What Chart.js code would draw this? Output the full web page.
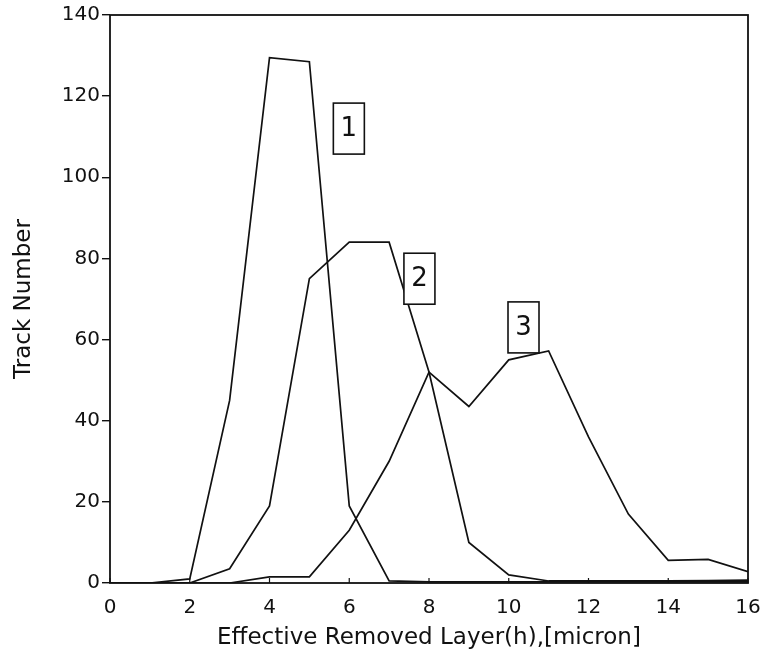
<!DOCTYPE html>
<html>
<head>
<meta charset="utf-8">
<script src="https://cdn.jsdelivr.net/npm/chart.js@4.4.1/dist/chart.umd.min.js"></script>
<style>
html,body{margin:0;padding:0;background:#ffffff;}
#wrap{width:769px;height:656px;position:relative;}
</style>
</head>
<body>
<div id="wrap"><canvas id="c" width="769" height="656"></canvas></div>
<script>
// ---- data ----
const xValues = [0,1,2,3,4,5,6,7,8,9,10,11,12,13,14,15,16];
const series1 = [0,0,1,45,129.5,128.5,19,0.5,0.3,0.3,0.3,0.3,0.3,0.3,0.3,0.3,0.3];
const series2 = [0,0,0,3.5,19,75,84,84,52,10,2,0.5,0.5,0.5,0.5,0.6,0.7];
const series3 = [0,0,0,0,1.5,1.5,13,30,52,43.5,55,57.2,36,17,5.6,5.8,2.8];
const xTicks = [0,2,4,6,8,10,12,14,16];
const yTicks = [0,20,40,60,80,100,120,140];
const curveNames = ['1','2','3'];
const nameX = [5.99, 7.76, 10.37];
const nameY = [112, 75, 63];
const xTitle = 'Effective Removed Layer(h),[micron]';
const yTitle = 'Track Number';

const ink = '#111111';
const FONT = "'DejaVu Sans', Arial, sans-serif";

function toPoints(ys){ return xValues.map((x,i)=>({x:x,y:ys[i]})); }

const frameAndLabels = {
  id:'frameAndLabels',
  afterDraw(chart){
    const ctx = chart.ctx, a = chart.chartArea;
    const xs = chart.scales.x, ys = chart.scales.y;
    ctx.save();
    ctx.strokeStyle = ink;
    ctx.lineWidth = 1.8;
    ctx.strokeRect(a.left, a.top, a.right-a.left, a.bottom-a.top);
    // inward x tick marks
    ctx.lineWidth = 1.2;
    xTicks.forEach(v=>{
      const px = xs.getPixelForValue(v);
      ctx.beginPath(); ctx.moveTo(px, a.bottom); ctx.lineTo(px, a.bottom-5); ctx.stroke();
    });
    // boxed curve labels
    ctx.font = "26px " + FONT;
    ctx.textAlign = 'center';
    ctx.textBaseline = 'middle';
    const bw = 31, bh = 51;
    curveNames.forEach((t,i)=>{
      const cx = xs.getPixelForValue(nameX[i]);
      const cy = ys.getPixelForValue(nameY[i]);
      ctx.fillStyle = '#ffffff';
      ctx.fillRect(cx-bw/2, cy-bh/2, bw, bh);
      ctx.strokeStyle = ink; ctx.lineWidth = 1.6;
      ctx.strokeRect(cx-bw/2, cy-bh/2, bw, bh);
      ctx.fillStyle = ink;
      ctx.fillText(t, cx, cy+1);
    });
    ctx.restore();
  }
};

const lineStyle = {borderColor: ink, borderWidth: 1.7, pointRadius: 0, fill: false, tension: 0, spanGaps: true};

new Chart(document.getElementById('c'), {
  type: 'line',
  data: {
    datasets: [
      Object.assign({label:'1', data: toPoints(series1)}, lineStyle),
      Object.assign({label:'2', data: toPoints(series2)}, lineStyle),
      Object.assign({label:'3', data: toPoints(series3)}, lineStyle)
    ]
  },
  options: {
    responsive: false,
    animation: false,
    devicePixelRatio: 1,
    layout: {padding: {top: 15, right: 21, left: 0, bottom: 0}},
    plugins: {legend: {display: false}, tooltip: {enabled: false}},
    scales: {
      x: {
        type: 'linear', min: 0, max: 16,
        afterBuildTicks(s){ s.ticks = xTicks.map(v=>({value:v})); },
        afterFit(s){ s.height = 73; s.paddingLeft = 0; s.paddingRight = 0; },
        grid: {display: true, drawOnChartArea: false, drawTicks: false},
        border: {display: false},
        ticks: {color: ink, font: {family: FONT, size: 20}, padding: 13, maxRotation: 0, autoSkip: false},
        title: {display: true, text: xTitle, color: ink, font: {family: FONT, size: 23}, padding: {top: 0, bottom: 4}}
      },
      y: {
        type: 'linear', min: 0, max: 140,
        afterBuildTicks(s){ s.ticks = yTicks.map(v=>({value:v})); },
        afterFit(s){ s.width = 110; s.paddingTop = 0; s.paddingBottom = 0; },
        grid: {display: true, drawOnChartArea: false, drawTicks: true, tickLength: 8, color: ink, lineWidth: 1.4},
        border: {display: false},
        ticks: {color: ink, font: {family: FONT, size: 20}, padding: 2, autoSkip: false},
        title: {display: true, text: yTitle, color: ink, font: {family: FONT, size: 23}, padding: {top: 10, bottom: 0}}
      }
    }
  },
  plugins: [frameAndLabels]
});
</script>
</body>
</html>
